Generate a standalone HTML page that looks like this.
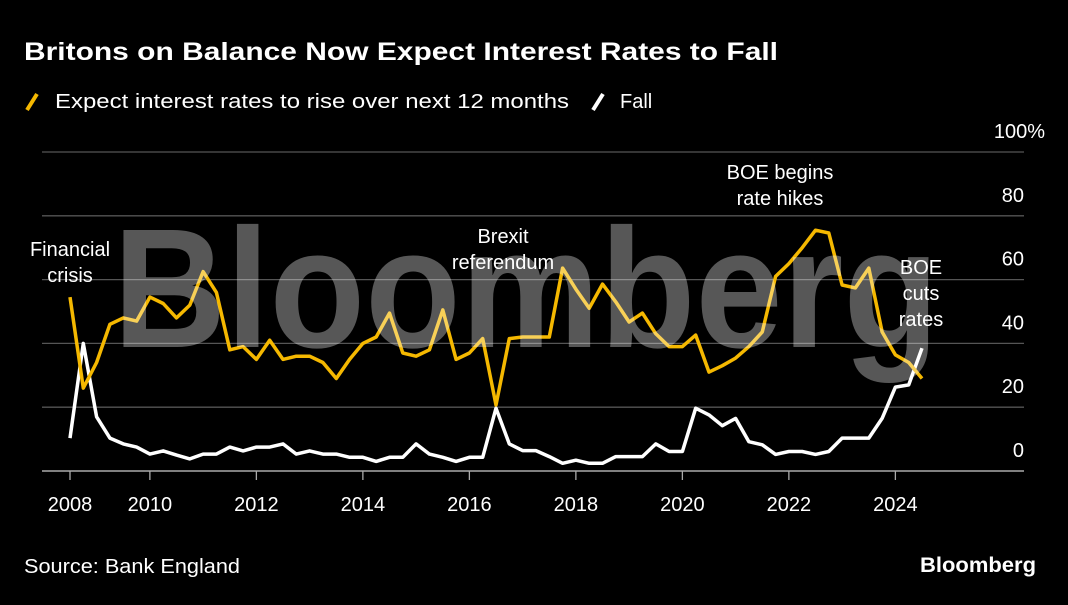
<!DOCTYPE html>
<html><head><meta charset="utf-8">
<style>
html,body{margin:0;padding:0;background:#000;}
body{width:1068px;height:600px;overflow:hidden;font-family:"Liberation Sans",Arial,sans-serif;}
svg text{font-family:"Liberation Sans",Arial,sans-serif;}
</style></head>
<body>
<svg id="chart" width="1068" height="600" viewBox="0 0 1068 600" xmlns="http://www.w3.org/2000/svg">
<rect width="1068" height="600" fill="#000"/>
<text x="24" y="60" font-size="25" font-weight="bold" fill="#fff" textLength="754" lengthAdjust="spacingAndGlyphs">Britons on Balance Now Expect Interest Rates to Fall</text>
<g>
<line x1="27" y1="110" x2="37" y2="94" stroke="#f5b800" stroke-width="4"/>
<text x="55" y="108" font-size="20" fill="#fff" textLength="514" lengthAdjust="spacingAndGlyphs">Expect interest rates to rise over next 12 months</text>
<line x1="593" y1="110" x2="603" y2="94" stroke="#fff" stroke-width="4"/>
<text x="620" y="108" font-size="20" fill="#fff">Fall</text>
</g>
<g id="grid"></g>
<g id="xaxis"></g>
<g id="series"></g>
<text x="526" y="347" font-size="170" font-weight="bold" fill="#fff" fill-opacity="0.34" text-anchor="middle" textLength="826" lengthAdjust="spacingAndGlyphs">Bloomberg</text>
<g font-size="20" fill="#fff" text-anchor="middle">
<text x="70" y="256">Financial</text>
<text x="70" y="282">crisis</text>
<text x="503" y="243">Brexit</text>
<text x="503" y="269">referendum</text>
<text x="780" y="179">BOE begins</text>
<text x="780" y="205">rate hikes</text>
<text x="921" y="274">BOE</text>
<text x="921" y="300">cuts</text>
<text x="921" y="326">rates</text>
</g>
<text x="24" y="573" font-size="20" fill="#fff" textLength="216" lengthAdjust="spacingAndGlyphs">Source: Bank England</text>
<text x="1036" y="572" font-size="21" font-weight="bold" fill="#fff" text-anchor="end" textLength="116" lengthAdjust="spacingAndGlyphs">Bloomberg</text>
</svg>
<script>
const riseValues=[54.5,26,34,46,48,47,54.5,52.5,48,52,62.5,56,38,39,35,41,35,36,36,34,29,35,40,42,49.5,37,36,38,50.5,35,37,41.5,20.7,41.5,42,42,42,63.6,57,51,58.6,53,46.7,49.5,43,39,39,42.6,31,33,35.4,39,43.6,61,65,70,75.5,74.6,58.3,57.4,63.6,43.6,36.4,34,29];
const fallValues=[10.3,40,17,10.3,8.5,7.5,5.3,6.3,5,3.8,5.3,5.3,7.5,6.3,7.5,7.5,8.5,5.3,6.3,5.3,5.3,4.3,4.3,3,4.3,4.3,8.5,5.3,4.3,3,4.3,4.3,19.7,8.5,6.4,6.4,4.5,2.4,3.4,2.4,2.4,4.5,4.5,4.5,8.5,6.1,6.1,19.7,17.6,14.2,16.5,9.2,8.2,5.2,6.1,6.1,5.2,6.1,10.3,10.3,10.3,16.5,26.3,27,38.5];
const startTime=2008.5;
const yTicks=[0,20,40,60,80,100];
const yTickLabels=["0","20","40","60","80","100%"];
const xTickTimes=[2008.5,2010,2012,2014,2016,2018,2020,2022,2024];
const xTickLabels=["2008","2010","2012","2014","2016","2018","2020","2022","2024"];
const NS="http://www.w3.org/2000/svg";
function x(t){return 70+(t-2008.5)*53.25;}
function y(v){return 471-v*3.19;}
function tOf(i){return startTime+i*0.25;}
const grid=document.getElementById('grid');
yTicks.forEach((v,i)=>{
 const l=document.createElementNS(NS,'line');
 l.setAttribute('x1',42);l.setAttribute('x2',1024);
 l.setAttribute('y1',y(v));l.setAttribute('y2',y(v));
 l.setAttribute('stroke',v===0?'#aaa':'#555');l.setAttribute('stroke-width',v===0?1.5:1.3);
 
 
 grid.appendChild(l);
 const t=document.createElementNS(NS,'text');
 const lab=yTickLabels[i];
 t.setAttribute('x',lab.endsWith('%')?1045:1024);
 t.setAttribute('y',y(v)-14);
 t.setAttribute('text-anchor','end');t.setAttribute('font-size','20');t.setAttribute('fill','#fff');
 t.textContent=lab;
 
 
 grid.appendChild(t);
});
const xa=document.getElementById('xaxis');
xTickTimes.forEach((tt,i)=>{
 const l=document.createElementNS(NS,'line');
 l.setAttribute('x1',x(tt));l.setAttribute('x2',x(tt));
 l.setAttribute('y1',471);l.setAttribute('y2',480);
 l.setAttribute('stroke','#aaa');l.setAttribute('stroke-width',1.3);
 
 
 xa.appendChild(l);
 const t=document.createElementNS(NS,'text');
 t.setAttribute('x',x(tt));t.setAttribute('y',511);
 t.setAttribute('text-anchor','middle');t.setAttribute('font-size','20');t.setAttribute('fill','#fff');
 t.textContent=xTickLabels[i];
 
 
 xa.appendChild(t);
});
const ser=document.getElementById('series');
function draw(vals,color,name){
 const p=document.createElementNS(NS,'polyline');
 p.setAttribute('points',vals.map((v,i)=>x(tOf(i)).toFixed(1)+','+y(v).toFixed(1)).join(' '));
 p.setAttribute('fill','none');p.setAttribute('stroke',color);p.setAttribute('stroke-width',3.5);
 p.setAttribute('stroke-linejoin','round');
 
 
 ser.appendChild(p);
}
draw(fallValues,'#ffffff','fall-line');
draw(riseValues,'#f5b800','rise-line');
</script>
</body></html>
